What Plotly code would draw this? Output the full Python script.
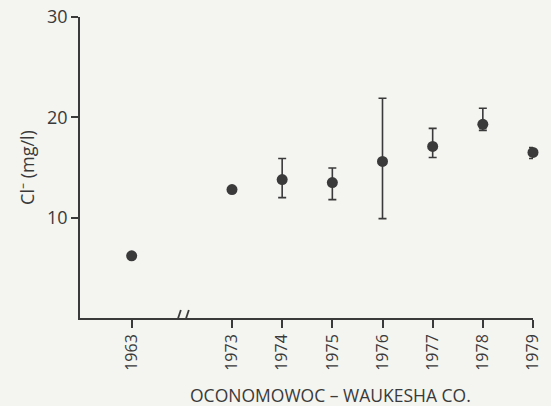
import plotly.graph_objects as go

years = ["1963", "1973", "1974", "1975", "1976", "1977", "1978", "1979"]
positions = [0, 2, 3, 4, 5, 6, 7, 8]
chloride = [6.2, 12.8, 13.8, 13.5, 15.6, 17.1, 19.3, 16.5]
err_high = [6.2, 12.8, 15.9, 14.95, 21.9, 18.9, 20.9, 17.0]
err_low = [6.2, 12.8, 12.0, 11.8, 9.9, 16.0, 18.7, 15.9]

y_ticks = [10, 20, 30]

ink = "#3a3a3a"
paper = "#f4f4f1"

err_plus = [h - v for h, v in zip(err_high, chloride)]
err_minus = [v - l for l, v in zip(err_low, chloride)]

fig = go.Figure()
fig.add_trace(go.Scatter(
    x=positions, y=chloride, mode="markers",
    marker=dict(size=11, color=ink, line=dict(width=0)),
    error_y=dict(type="data", symmetric=False, array=err_plus, arrayminus=err_minus,
                 color=ink, thickness=1.6, width=4),
    showlegend=False, cliponaxis=False,
))

# axis break marks "//"
for dx in (-4, 4):
    fig.add_shape(type="line", xref="x", yref="y",
                  xsizemode="pixel", xanchor=1, ysizemode="pixel", yanchor=0,
                  x0=dx - 3, x1=dx + 3, y0=-10, y1=8,
                  line=dict(color=ink, width=1.8))

fig.add_annotation(text="OCONOMOWOC – WAUKESHA CO.", xref="paper", yref="paper",
                   x=0.554, y=-0.256, xanchor="center", yanchor="middle",
                   showarrow=False, font=dict(size=17.5, color=ink))

fig.update_layout(
    width=551, height=406,
    margin=dict(l=80, r=18, t=17, b=88),
    paper_bgcolor=paper, plot_bgcolor=paper,
    font=dict(family="Open Sans", color=ink, size=16),
    xaxis=dict(range=[-1.03, 8], tickvals=positions, ticktext=years, tickangle=-90,
               automargin=False,
               showgrid=False, zeroline=False, showline=True, linecolor=ink, linewidth=1.6,
               ticks="outside", ticklen=8, tickwidth=1.6, tickcolor=ink,
               tickfont=dict(size=16, color=ink)),
    yaxis=dict(range=[0, 30], tickvals=y_ticks, automargin=False,
               showgrid=False, zeroline=False,
               showline=True, linecolor=ink, linewidth=1.6,
               ticks="outside", ticklen=7, tickwidth=1.6, tickcolor=ink,
               tickfont=dict(size=18, color=ink),
               title=dict(text="Cl⁻ (mg/l)", font=dict(size=18, color=ink), standoff=8)),
)

fig.write_html("out.html", config={"displayModeBar": False},
               post_script="document.body.style.margin='0';document.body.style.background='%s';" % paper)
